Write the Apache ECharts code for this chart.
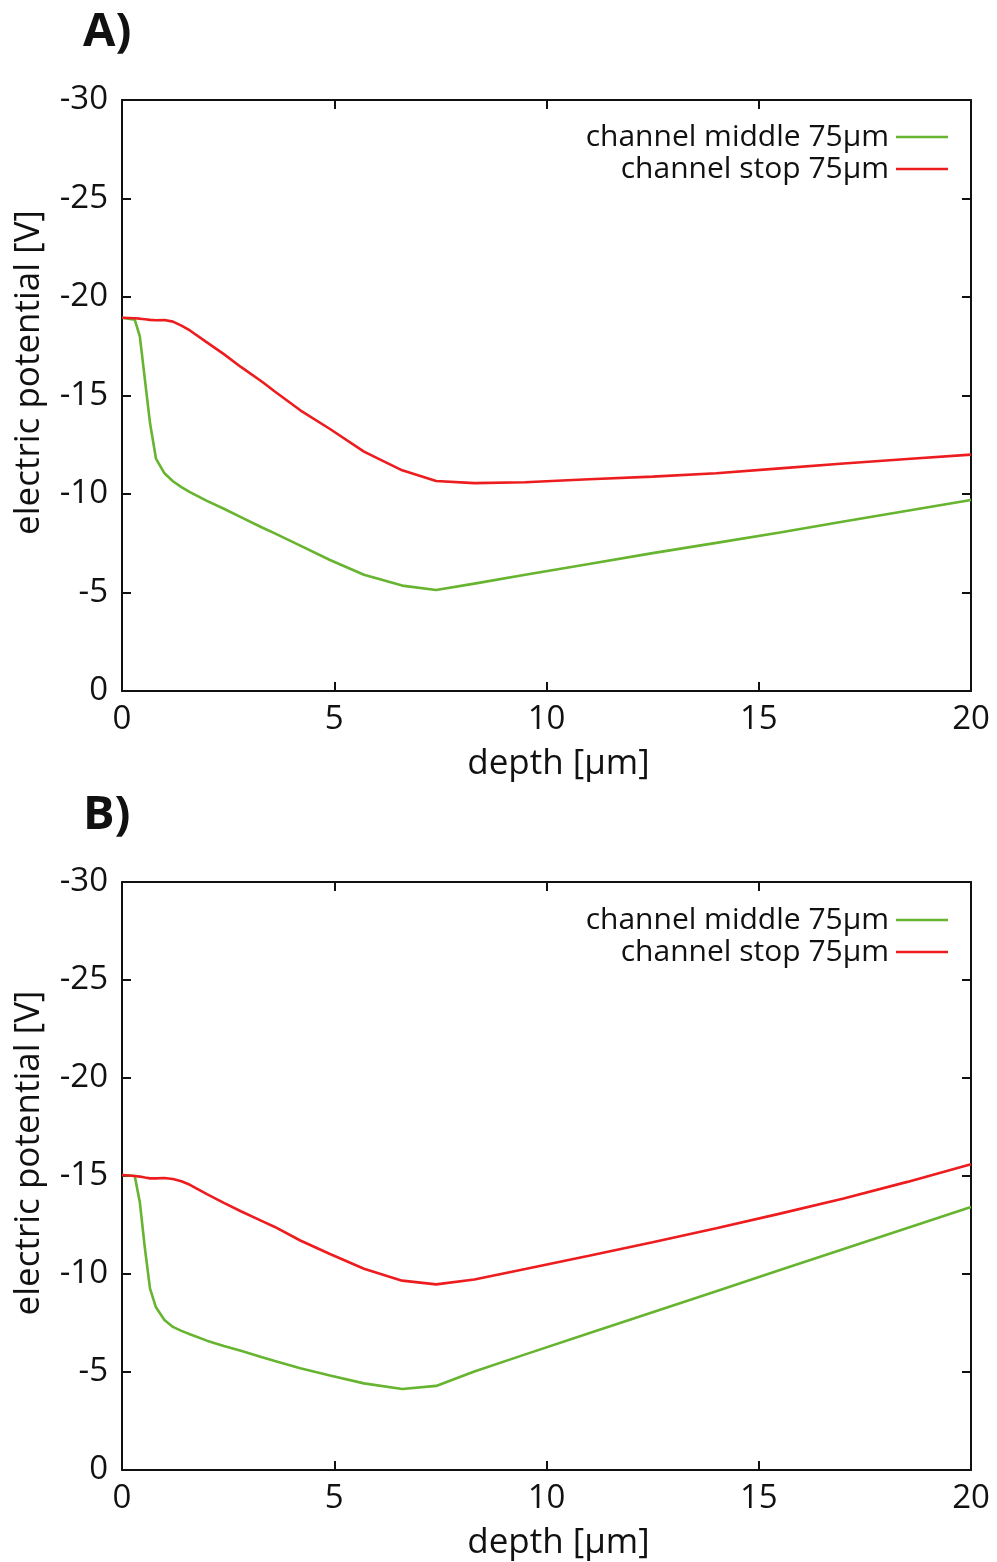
<!DOCTYPE html>
<html>
<head>
<meta charset="utf-8">
<script src="https://cdn.jsdelivr.net/npm/echarts@6/dist/echarts.min.js"></script>
<style>
  html, body { margin: 0; padding: 0; background: #fff; }
  #chart { width: 997px; height: 1562px; }
</style>
</head>
<body>
<div id="chart"></div>
<script>
// Depth samples (µm) shared by all curves
const depth = [0, 0.3, 0.42, 0.54, 0.66, 0.8, 1.0, 1.2, 1.4, 1.6, 2.0, 2.4, 2.8, 3.3, 3.6, 4.2, 4.9, 5.7, 6.6, 7.4, 8.3, 9.5, 11, 12.5, 14, 15.5, 17, 18.5, 20];

// Panel A: electric potential (V)
const middleA = [-18.95, -18.85, -18.0, -15.8, -13.6, -11.8, -11.05, -10.65, -10.35, -10.1, -9.65, -9.25, -8.83, -8.3, -8.0, -7.38, -6.65, -5.9, -5.35, -5.13, -5.45, -5.9, -6.45, -7.0, -7.52, -8.05, -8.6, -9.15, -9.7];
const stopA   = [-18.95, -18.92, -18.9, -18.87, -18.84, -18.82, -18.83, -18.75, -18.55, -18.3, -17.7, -17.1, -16.45, -15.7, -15.2, -14.25, -13.3, -12.15, -11.2, -10.66, -10.55, -10.6, -10.75, -10.88, -11.05, -11.3, -11.55, -11.78, -12.0];

// Panel B: electric potential (V)
const middleB = [-15.05, -15.0, -13.66, -11.3, -9.25, -8.3, -7.65, -7.3, -7.1, -6.93, -6.6, -6.33, -6.08, -5.75, -5.56, -5.19, -4.82, -4.42, -4.13, -4.29, -5.03, -5.9, -6.98, -8.05, -9.12, -10.2, -11.27, -12.35, -13.42];
const stopB   = [-15.05, -15.0, -14.97, -14.92, -14.88, -14.88, -14.9, -14.85, -14.73, -14.55, -14.08, -13.63, -13.2, -12.7, -12.4, -11.71, -11.02, -10.27, -9.66, -9.47, -9.72, -10.25, -10.93, -11.62, -12.33, -13.08, -13.85, -14.7, -15.6];

const seriesNames = ['channel middle 75µm', 'channel stop 75µm'];
const panelLabels = ['A)', 'B)'];
const xName = 'depth [µm]';
const yName = 'electric potential [V]';

const GREEN = '#66b42f';
const RED = '#ec1c1f';
const FONT = '"Open Sans", "Noto Sans", sans-serif';

const pair = (xs, ys) => xs.map((x, i) => [x, ys[i]]);

const grids = [
  { left: 122, top: 100, width: 849, height: 591 },
  { left: 122, top: 882, width: 849, height: 590 }
];

// Frame lines stay on the grid edges (no snapping to zero), ticks point inward
const frameLine = { show: true, onZero: false, lineStyle: { color: '#111', width: 2 } };
const innerTick = { show: true, inside: true, length: 9, lineStyle: { color: '#111', width: 2 } };

const xAxes = [];
const yAxes = [];
grids.forEach((g, gi) => {
  xAxes.push({
    type: 'value', gridIndex: gi, position: 'bottom', min: 0, max: 20, interval: 5,
    axisLine: frameLine, axisTick: innerTick, splitLine: { show: false },
    axisLabel: { color: '#111', fontSize: 33, fontFamily: FONT, margin: 12 },
    name: xName, nameLocation: 'middle', nameGap: 56,
    nameTextStyle: { color: '#111', fontSize: 35, fontFamily: FONT, padding: [0, 0, 0, 24] }
  });
  xAxes.push({
    type: 'value', gridIndex: gi, position: 'top', min: 0, max: 20, interval: 5,
    axisLine: frameLine, axisTick: innerTick, splitLine: { show: false },
    axisLabel: { show: false }
  });
  yAxes.push({
    type: 'value', gridIndex: gi, position: 'left', min: -30, max: 0, interval: 5, inverse: true,
    axisLine: frameLine, axisTick: innerTick, splitLine: { show: false },
    axisLabel: { color: '#111', fontSize: 33, fontFamily: FONT, margin: 14 },
    name: yName, nameLocation: 'middle', nameGap: 75, nameRotate: 90,
    nameTextStyle: { color: '#111', fontSize: 35, fontFamily: FONT, padding: [0, 0, 0, 46] }
  });
  yAxes.push({
    type: 'value', gridIndex: gi, position: 'right', min: -30, max: 0, interval: 5, inverse: true,
    axisLine: frameLine, axisTick: innerTick, splitLine: { show: false },
    axisLabel: { show: false }
  });
});

const lineSeries = (name, data, color, gi) => ({
  type: 'line', name, data, xAxisIndex: gi * 2, yAxisIndex: gi * 2,
  showSymbol: false, symbol: 'none', smooth: false,
  lineStyle: { color, width: 2.6 }, itemStyle: { color },
  emphasis: { disabled: true }, silent: true
});

const legendRows = [
  { top: 122, name: seriesNames[0] }, { top: 154, name: seriesNames[1] },
  { top: 905, name: seriesNames[0] }, { top: 937, name: seriesNames[1] }
];

const option = {
  animation: false,
  backgroundColor: '#fff',
  grid: grids,
  xAxis: xAxes,
  yAxis: yAxes,
  title: [
    { text: panelLabels[0], left: 83, top: 9, padding: 0,
      textStyle: { fontSize: 47, fontWeight: 'bold', fontFamily: FONT, color: '#111' } },
    { text: panelLabels[1], left: 83, top: 792, padding: 0,
      textStyle: { fontSize: 47, fontWeight: 'bold', fontFamily: FONT, color: '#111' } }
  ],
  legend: legendRows.map(r => ({
    data: [r.name], right: 49, top: r.top, orient: 'vertical', align: 'right',
    padding: 0, itemWidth: 52, itemHeight: 2.5, icon: 'rect', selectedMode: false,
    textStyle: { fontSize: 30, fontFamily: FONT, color: '#111', padding: [0, 2, 0, 0] }
  })),
  series: [
    lineSeries(seriesNames[0], pair(depth, middleA), GREEN, 0),
    lineSeries(seriesNames[1], pair(depth, stopA), RED, 0),
    lineSeries(seriesNames[0], pair(depth, middleB), GREEN, 1),
    lineSeries(seriesNames[1], pair(depth, stopB), RED, 1)
  ]
};

echarts.init(document.getElementById('chart'), null, { renderer: 'canvas' }).setOption(option);
</script>
</body>
</html>
